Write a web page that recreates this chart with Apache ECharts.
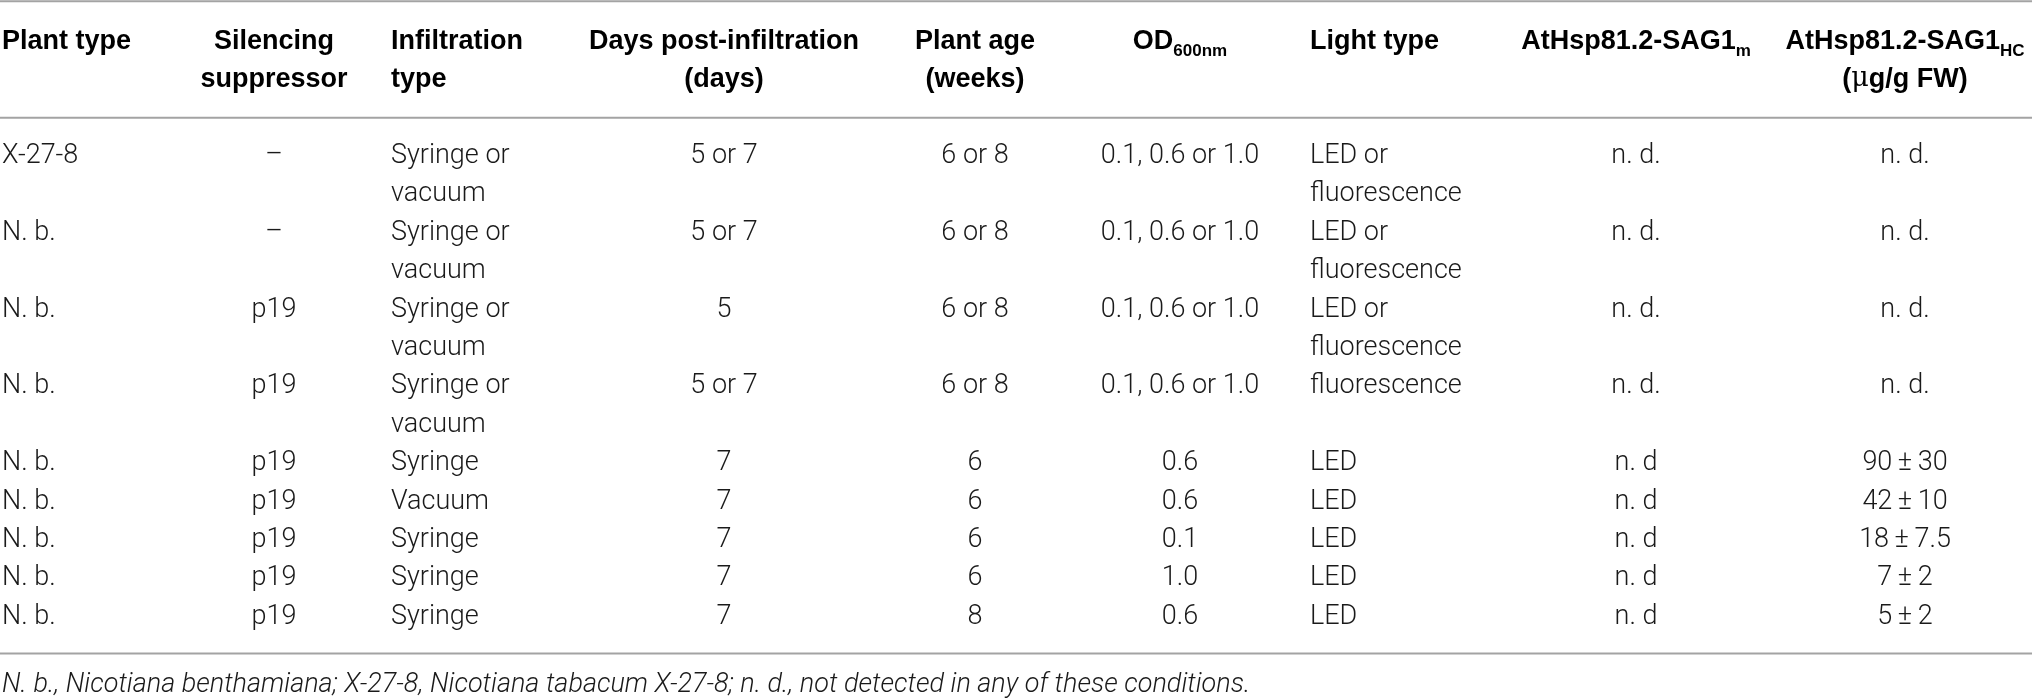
<!DOCTYPE html>
<html>
<head>
<meta charset="utf-8">
<style>
html, body { margin: 0; padding: 0; background: #fff; }
#chart { width: 2032px; height: 698px; }
</style>
<script src="https://cdn.jsdelivr.net/npm/echarts@6/dist/echarts.min.js"></script>
</head>
<body>
<div id="chart"></div>
<script>
// table content
const headers = [
    ['Plant type'],
    ['Silencing', 'suppressor'],
    ['Infiltration', 'type'],
    ['Days post-infiltration', '(days)'],
    ['Plant age', '(weeks)'],
    ['OD{sub|600nm}'],
    ['Light type'],
    ['AtHsp81.2-SAG1{sub|m}'],
    ['AtHsp81.2-SAG1{sub|HC}', '({mu|μ}g/g FW)']
];
const plantTypes = ['X-27-8', 'N. b.', 'N. b.', 'N. b.', 'N. b.', 'N. b.', 'N. b.', 'N. b.', 'N. b.'];
const suppressors = ['–', '–', 'p19', 'p19', 'p19', 'p19', 'p19', 'p19', 'p19'];
const infiltration = ['Syringe or vacuum', 'Syringe or vacuum', 'Syringe or vacuum', 'Syringe or vacuum',
    'Syringe', 'Vacuum', 'Syringe', 'Syringe', 'Syringe'];
const daysPost = ['5 or 7', '5 or 7', '5', '5 or 7', '7', '7', '7', '7', '7'];
const plantAge = ['6 or 8', '6 or 8', '6 or 8', '6 or 8', '6', '6', '6', '6', '8'];
const od600 = ['0.1, 0.6 or 1.0', '0.1, 0.6 or 1.0', '0.1, 0.6 or 1.0', '0.1, 0.6 or 1.0',
    '0.6', '0.6', '0.1', '1.0', '0.6'];
const lightType = ['LED or fluorescence', 'LED or fluorescence', 'LED or fluorescence', 'fluorescence',
    'LED', 'LED', 'LED', 'LED', 'LED'];
const sag1m = ['n. d.', 'n. d.', 'n. d.', 'n. d.', 'n. d', 'n. d', 'n. d', 'n. d', 'n. d'];
const sag1hc = ['n. d.', 'n. d.', 'n. d.', 'n. d.', '90\u2009±\u200930', '42\u2009±\u200910',
    '18\u2009±\u20097.5', '7\u2009±\u20092', '5\u2009±\u20092'];
const footnote = 'N. b., Nicotiana benthamiana; X-27-8, Nicotiana tabacum X-27-8; n. d., not detected in any of these conditions.';

const columns = [plantTypes, suppressors, infiltration, daysPost, plantAge, od600, lightType, sag1m, sag1hc];

// layout (pixels on a 0..2032 x axis)
const colX = [2, 274, 391, 724, 975, 1180, 1310, 1636, 1905];
const colAlign = ['left', 'center', 'left', 'center', 'center', 'center', 'left', 'center', 'center'];
const colWidth = [150, 150, 190, 260, 180, 230, 200, 250, 250];
const bodyFont = '300 27px Roboto';
const headFont = 'bold 27px "Liberation Sans"';
const textColor = '#1a1a1a';
const ruleColor = '#a3a3a3';

// wrap cell text to its column width
const ctx = document.createElement('canvas').getContext('2d');
function wrap(text, font, width) {
    ctx.font = font;
    const words = text.split(' ');
    const lines = [];
    let cur = '';
    words.forEach(w => {
        const test = cur ? cur + ' ' + w : w;
        if (cur && ctx.measureText(test).width > width) {
            lines.push(cur);
            cur = w;
        } else {
            cur = test;
        }
    });
    lines.push(cur);
    return lines;
}

const cells = [];
let lineCount = 0;
for (let r = 0; r < plantTypes.length; r++) {
    let maxLines = 1;
    columns.forEach((col, c) => {
        const lines = wrap(col[r], bodyFont, colWidth[c]);
        maxLines = Math.max(maxLines, lines.length);
        cells.push({ value: [c, lineCount], lines: lines });
    });
    lineCount += maxLines;
}
const headerLines = Math.max(...headers.map(h => h.length));
const headCells = headers.map((h, c) => ({ value: [c, -headerLines - 1], lines: h }));
const rules = [[-headerLines - 2.04], [-1], [lineCount - 0.05]];

const chart = echarts.init(document.getElementById('chart'));

chart.setOption({
    animation: false,
    grid: { left: 0, right: 0, top: 0, bottom: 0 },
    xAxis: { type: 'value', min: 0, max: 2032, show: false },
    yAxis: { type: 'value', inverse: true, min: -4.07, max: 14.11, show: false },
    series: [
        {
            // horizontal rules
            type: 'custom',
            data: rules,
            renderItem: (params, api) => {
                const a = api.coord([0, api.value(0)]);
                const b = api.coord([2032, api.value(0)]);
                return {
                    type: 'line',
                    shape: { x1: a[0], y1: a[1], x2: b[0], y2: b[1] },
                    style: { stroke: ruleColor, lineWidth: 2 }
                };
            }
        },
        {
            // header cells
            type: 'custom',
            data: headCells,
            renderItem: (params, api) => {
                const c = api.value(0);
                const lineH = api.size([0, 1])[1];
                const p = api.coord([colX[c], api.value(1)]);
                return {
                    type: 'text',
                    x: p[0],
                    y: p[1] - lineH / 2,
                    style: {
                        text: headCells[params.dataIndex].lines.join('\n'),
                        font: headFont,
                        fill: '#000',
                        align: colAlign[c],
                        verticalAlign: 'top',
                        lineHeight: lineH,
                        rich: {
                            sub: { font: 'bold 17px "Liberation Sans"', fill: '#000', verticalAlign: 'bottom', lineHeight: lineH, padding: [12, 0, 0, 0] },
                            mu: { font: '27px "DejaVu Serif"', fill: '#000', lineHeight: lineH }
                        }
                    }
                };
            }
        },
        {
            // body cells
            type: 'custom',
            data: cells,
            renderItem: (params, api) => {
                const c = api.value(0);
                const lineH = api.size([0, 1])[1];
                const p = api.coord([colX[c], api.value(1)]);
                return {
                    type: 'text',
                    x: p[0],
                    y: p[1] - lineH / 2,
                    style: {
                        text: cells[params.dataIndex].lines.join('\n'),
                        font: bodyFont,
                        fill: textColor,
                        align: colAlign[c],
                        verticalAlign: 'top',
                        lineHeight: lineH
                    }
                };
            }
        },
        {
            // footnote
            type: 'custom',
            data: [[lineCount + 0.78]],
            renderItem: (params, api) => {
                const p = api.coord([2, api.value(0)]);
                return {
                    type: 'text',
                    x: p[0],
                    y: p[1],
                    style: {
                        text: footnote,
                        font: 'italic 300 27px Roboto',
                        fill: textColor,
                        align: 'left',
                        verticalAlign: 'middle'
                    }
                };
            }
        }
    ]
});
</script>
</body>
</html>
